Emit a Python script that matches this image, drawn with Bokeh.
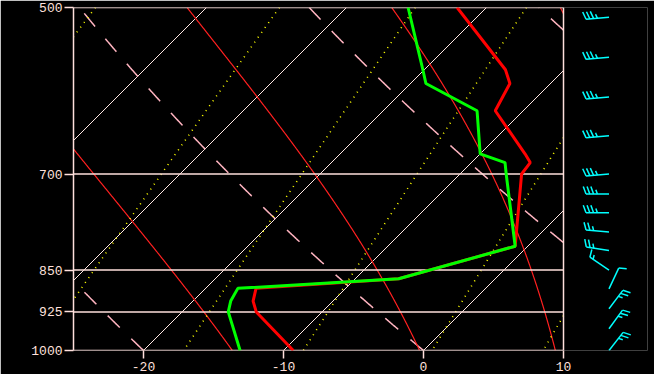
import numpy as np
from bokeh.plotting import figure
from bokeh.models import Range1d, FixedTicker, PrintfTickFormatter
from bokeh.embed import file_html
from bokeh.resources import INLINE

# ---------------- data ----------------
pres_levels = [1000, 925, 905, 882, 865, 810, 700, 684, 672, 616, 583, 567, 500]
temp_c = [-9.3, -14.7, -15.7, -16.4, -6.9, -0.9, -5.6, -5.8, -6.8, -12.0, -12.9, -14.2, -22.1]
dewp_c = [-13.1, -16.7, -17.3, -17.7, -6.9, -0.9, -6.7, -7.6, -10.0, -13.3, -18.9, -20.1, -25.6]

wind_p = [1000, 957, 919, 883, 850, 817, 787, 757, 729, 700, 648, 599, 553, 510]
wind_dir = [38, 36, 37, 25, 304, 279, 275, 270, 270, 265, 265, 265, 265, 265]
wind_kt = [25, 25, 25, 10, 15, 25, 25, 35, 35, 35, 35, 35, 35, 35]

p_ticks = [500, 700, 850, 925, 1000]
t_ticks = [-20, -10, 0, 10]

isotherm_c = [-40, -30, -20, -10, 0, 10]
dry_theta_c = [-20, 0, 20, 40]
thetae_c = [-10, 10, 30, 50]
mixr_gkg = [0.1, 0.4, 1, 2, 4, 7, 10, 16]

# ---------------- geometry ----------------
X_LO, X_HI = -25.0, 10.0          # diagram temperature span at 1000 hPa
X_END = 16.0                      # room for wind barbs
P_BOT, P_TOP = 1000.0, 500.0
FRAME_W_PX_PER_DEG = 14.0
FRAME_H = 343
PXL = FRAME_H / np.log(P_BOT / P_TOP)   # px per ln(p)
SKEW = PXL / FRAME_W_PX_PER_DEG          # deg per ln(p) -> 45 degree isotherms
FRAME_W = int(round((X_END - X_LO) * FRAME_W_PX_PER_DEG))

W, H = 654, 374
LEFT, TOP = 73, 7
RIGHT = W - LEFT - FRAME_W
BOTTOM = H - TOP - FRAME_H

PINK = "#ffe0dc"
FONT = "Liberation Mono"


def skx(t, p):
    return np.asarray(t, float) + SKEW * np.log(P_BOT / np.asarray(p, float))


def clip_x(X, P, lo=X_LO, hi=X_HI):
    pieces = []
    cx, cp = [], []
    L = np.log(P)
    for i in range(len(X)):
        if i > 0:
            xa, xb = X[i - 1], X[i]
            la, lb = L[i - 1], L[i]
            for bnd in (lo, hi):
                if (xa - bnd) * (xb - bnd) < 0:
                    f = (bnd - xa) / (xb - xa)
                    pb = float(np.exp(la + f * (lb - la)))
                    if lo <= xa <= hi:
                        cx.append(bnd); cp.append(pb)
                        pieces.append((cx, cp)); cx, cp = [], []
                    else:
                        cx, cp = [bnd], [pb]
        if lo <= X[i] <= hi:
            cx.append(float(X[i])); cp.append(float(P[i]))
    if len(cx) > 1:
        pieces.append((cx, cp))
    return [pc for pc in pieces if len(pc[0]) > 1]


pgrid = np.exp(np.linspace(np.log(P_BOT), np.log(P_TOP), 400))


def es(tc):
    return 6.112 * np.exp(17.67 * tc / (tc + 243.5))


def thetae_sat(tk, p):
    e = es(tk - 273.15)
    r = 1000.0 * 0.622 * e / (p - e)
    th = tk * (1000.0 / p) ** (0.2854 * (1 - 0.28e-3 * r))
    return th * np.exp((3.376 / tk - 0.00254) * r * (1 + 0.81e-3 * r))


def solve_thetae(target, p):
    lo = np.full_like(p, 190.0)
    hi = np.full_like(p, 330.0)
    for _ in range(60):
        mid = 0.5 * (lo + hi)
        v = thetae_sat(mid, p)
        big = v > target
        hi = np.where(big, mid, hi)
        lo = np.where(big, lo, mid)
    return 0.5 * (lo + hi) - 273.15


def collect(curves):
    xs, ys = [], []
    for X, P in curves:
        for cx, cp in clip_x(X, P):
            xs.append(cx); ys.append(cp)
    return xs, ys


p = figure(width=W, height=H, x_range=Range1d(X_LO, X_END), y_range=Range1d(P_BOT, P_TOP),
           y_axis_type="log", output_backend="svg", toolbar_location=None,
           background_fill_color="black", border_fill_color="black",
           min_border_left=LEFT, min_border_right=RIGHT, min_border_top=TOP,
           min_border_bottom=BOTTOM)
p.outline_line_color = None
p.grid.visible = False

# isotherms
iso = [(skx([t, t], [P_BOT, P_TOP]), np.array([P_BOT, P_TOP])) for t in isotherm_c]
xs, ys = collect(iso)
p.multi_line(xs, ys, line_color="#ffe8e4", line_width=1)

# dry adiabats
dry = []
for th in dry_theta_c:
    tk = (th + 273.15) * (pgrid / 1000.0) ** 0.2857
    dry.append((skx(tk - 273.15, pgrid), pgrid))
xs, ys = collect(dry)
p.multi_line(xs, ys, line_color="#ffb4c0", line_width=1.5, line_dash="17 16")

# moist (equivalent potential temperature) lines
moist = []
for te in thetae_c:
    tc = solve_thetae(te + 273.15, pgrid)
    moist.append((skx(tc, pgrid), pgrid))
xs, ys = collect(moist)
p.multi_line(xs, ys, line_color="#ff2020", line_width=1.2)

# mixing-ratio lines
mix = []
for w in mixr_gkg:
    e = w * pgrid / (622.0 + w)
    a = np.log(e / 6.112)
    tc = 243.5 * a / (17.67 - a)
    mix.append((skx(tc, pgrid)[::-1], pgrid[::-1]))
xs, ys = collect(mix)
p.multi_line(xs, ys, line_color="#ffff00", line_width=1.6, line_dash="1 5")

# isobars and right border
p.segment(x0=[X_LO] * len(p_ticks), y0=p_ticks, x1=[X_HI] * len(p_ticks), y1=p_ticks,
          line_color=PINK, line_width=1.5)
p.segment(x0=[X_HI], y0=[P_BOT], x1=[X_HI], y1=[P_TOP], line_color=PINK, line_width=1.5)

# sounding
p.line(skx(temp_c, pres_levels), pres_levels, line_color="#ff0000", line_width=3)
p.line(skx(dewp_c, pres_levels), pres_levels, line_color="#00ff00", line_width=3)

# wind barbs
STATION_X = (615.5 - 430.0) / FRAME_W_PX_PER_DEG
STAFF, FULL, HALF, SPACING = 23.0, 8.0, 4.5, 3.8
bx0, by0, bx1, by1 = [], [], [], []


def add_seg(pp, ax, ay, bx, by):
    bx0.append(STATION_X + ax / FRAME_W_PX_PER_DEG)
    by0.append(pp * np.exp(-ay / PXL))
    bx1.append(STATION_X + bx / FRAME_W_PX_PER_DEG)
    by1.append(pp * np.exp(-by / PXL))


for pp, d, spd in zip(wind_p, wind_dir, wind_kt):
    a = np.radians(d)
    ux, uy = np.sin(a), np.cos(a)
    add_seg(pp, 0, 0, STAFF * ux, STAFF * uy)
    b = np.radians(d + 70)
    vx, vy = np.sin(b), np.cos(b)
    nfull = int(spd // 10)
    half = (spd % 10) >= 5
    pos = STAFF
    for k in range(nfull):
        sx, sy = pos * ux, pos * uy
        add_seg(pp, sx, sy, sx + FULL * vx, sy + FULL * vy)
        pos -= SPACING
    if half:
        if nfull == 0:
            pos -= SPACING
        sx, sy = pos * ux, pos * uy
        add_seg(pp, sx, sy, sx + HALF * vx, sy + HALF * vy)

p.segment(x0=bx0, y0=by0, x1=bx1, y1=by1, line_color="#00ffff", line_width=1.5)

# axes
xa = p.xaxis[0]
xa.ticker = FixedTicker(ticks=t_ticks, minor_ticks=[])
xa.formatter = PrintfTickFormatter(format="%d")
xa.axis_line_color = None
xa.major_tick_line_color = PINK
xa.major_tick_line_width = 1.5
xa.major_tick_out = 8
xa.major_tick_in = 0
xa.minor_tick_line_color = None
xa.major_label_standoff = 3
xa.major_label_text_font = FONT
xa.major_label_text_font_size = "13px"
xa.major_label_text_color = PINK

ya = p.yaxis[0]
ya.ticker = FixedTicker(ticks=p_ticks, minor_ticks=[])
ya.formatter = PrintfTickFormatter(format="%d")
ya.axis_line_color = PINK
ya.axis_line_width = 1.5
ya.major_tick_line_color = PINK
ya.major_tick_line_width = 1.5
ya.major_tick_out = 9
ya.major_tick_in = 0
ya.minor_tick_line_color = None
ya.major_label_standoff = 2
ya.major_label_text_font = FONT
ya.major_label_text_font_size = "13px"
ya.major_label_text_color = PINK

open("out.html", "w").write(file_html(p, INLINE))
